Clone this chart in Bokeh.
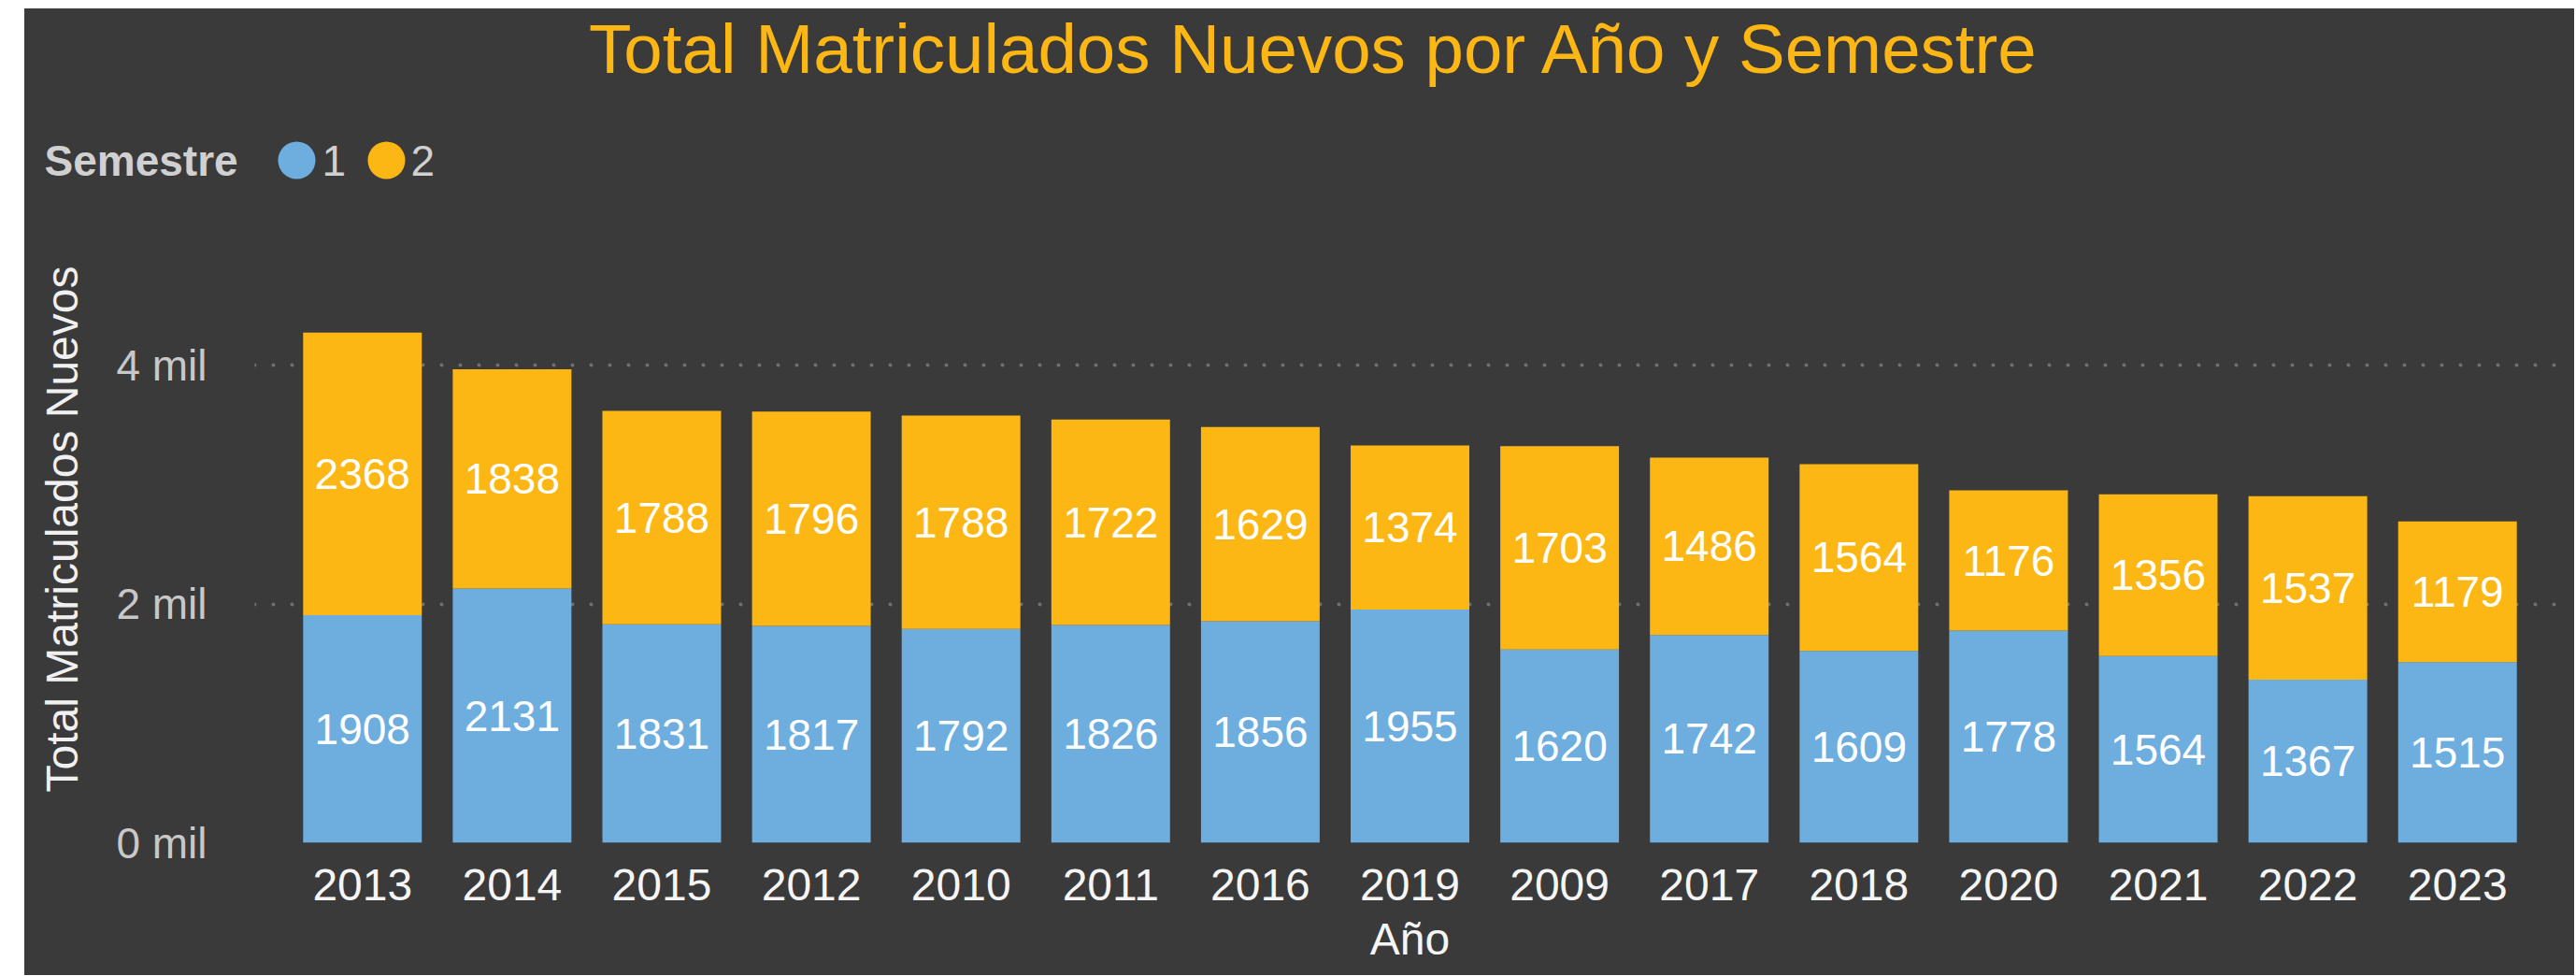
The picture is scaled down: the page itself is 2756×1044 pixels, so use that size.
from bokeh.plotting import figure
from bokeh.models import (ColumnDataSource, FactorRange, FixedTicker, LabelSet, Label,
                          Spacer, Range1d)
from bokeh.layouts import row, column
from bokeh.core.properties import value
from bokeh.embed import file_html
from bokeh.resources import INLINE

# ---- data ----
years = ["2013", "2014", "2015", "2012", "2010", "2011", "2016", "2019",
         "2009", "2017", "2018", "2020", "2021", "2022", "2023"]
sem1 = [1908, 2131, 1831, 1817, 1792, 1826, 1856, 1955, 1620, 1742, 1609, 1778, 1564, 1367, 1515]
sem2 = [2368, 1838, 1788, 1796, 1788, 1722, 1629, 1374, 1703, 1486, 1564, 1176, 1356, 1537, 1179]
semesters = ["1", "2"]
y_ticks = [0, 2000, 4000]
y_tick_labels = ["0 mil", "2 mil", "4 mil"]

BG = "#3A3A3A"
BLUE = "#6EAEDF"
GOLD = "#FDB714"
FONT = "Liberation Sans"
BGSTYLE = {"background-color": BG}

W = 2728
HEAD_H = 221
MAIN_H = 813

src = ColumnDataSource(dict(
    year=years, s1=sem1, s2=sem2,
    s1_mid=[v / 2 for v in sem1],
    s2_mid=[a + b / 2 for a, b in zip(sem1, sem2)],
    s1_txt=[str(v) for v in sem1],
    s2_txt=[str(v) for v in sem2],
))

# ---------------- header (title + legend) ----------------
head = figure(width=W, height=HEAD_H, x_range=Range1d(0, W), y_range=Range1d(0, HEAD_H),
              x_axis_type=None, y_axis_type=None, output_backend="svg",
              toolbar_location=None, min_border=0, title=None,
              background_fill_color=BG, border_fill_color=BG, styles=BGSTYLE)
head.outline_line_color = None
head.grid.visible = False

head.add_layout(Label(x=1380, y=178, text="Total Matriculados Nuevos por Año y Semestre",
                      text_align="center", text_baseline="alphabetic",
                      text_font=FONT, text_font_size="74.5px", text_color=GOLD))
head.add_layout(Label(x=21, y=59, text="Semestre", text_align="left",
                      text_baseline="alphabetic", text_font=FONT, text_font_size="46px",
                      text_font_style="bold", text_color="#D0D0D0"))

# legend swatches (one per semester), laid out left to right
leg = ColumnDataSource(dict(
    cx=[291 + 96 * i for i in range(len(semesters))],
    tx=[318 + 95 * i for i in range(len(semesters))],
    cy=[59] * len(semesters),
    ty=[59] * len(semesters),
    color=[BLUE, GOLD],
    label=semesters,
))
head.scatter(x="cx", y="cy", size=40, marker="circle", fill_color="color",
             line_color=None, source=leg)
head.text(x="tx", y="ty", text="label", source=leg, text_align="left",
          text_baseline="alphabetic", text_font=value(FONT), text_font_size="46px",
          text_color="#D0D0D0")

# ---------------- main chart ----------------
p = figure(width=W, height=MAIN_H,
           x_range=FactorRange(*years, range_padding=0.22, range_padding_units="absolute"),
           y_range=Range1d(0, 5257),
           output_backend="svg", toolbar_location=None, title=None,
           min_border_left=246, min_border_right=10, min_border_top=0, min_border_bottom=142,
           background_fill_color=BG, border_fill_color=BG, styles=BGSTYLE)
p.outline_line_color = None

p.vbar_stack(["s1", "s2"], x="year", width=0.793, source=src,
             fill_color=[BLUE, GOLD], line_color=None)

for col, txt in (("s1_mid", "s1_txt"), ("s2_mid", "s2_txt")):
    p.add_layout(LabelSet(x="year", y=col, text=txt, source=src,
                          text_align="center", text_baseline="middle",
                          text_color="white", text_font_size="46px",
                          text_font=value(FONT)))

# axes
p.yaxis.ticker = FixedTicker(ticks=y_ticks)
p.yaxis.major_label_overrides = {t: l for t, l in zip(y_ticks, y_tick_labels)}
for ax in (p.xaxis[0], p.yaxis[0]):
    ax.axis_line_color = None
    ax.major_tick_line_color = None
    ax.minor_tick_line_color = None
    ax.major_tick_out = 0
    ax.major_tick_in = 0
    ax.major_label_text_font = FONT
    ax.axis_label_text_font = FONT
    ax.axis_label_text_font_style = "normal"

p.yaxis.axis_label = "Total Matriculados Nuevos"
p.yaxis.axis_label_text_font_size = "48px"
p.yaxis.axis_label_text_color = "#F0F0F0"
p.yaxis.axis_label_standoff = 28
p.yaxis.major_label_text_font_size = "46px"
p.yaxis.major_label_text_color = "#C8C8C8"
p.yaxis.major_label_standoff = 51

p.xaxis.axis_label = "Año"
p.xaxis.axis_label_text_font_size = "48px"
p.xaxis.axis_label_text_color = "#F5F5F5"
p.xaxis.axis_label_standoff = 12
p.xaxis.major_label_text_font_size = "48px"
p.xaxis.major_label_text_color = "#F5F5F5"
p.xaxis.major_label_standoff = 28

p.xgrid.visible = False
p.ygrid.grid_line_color = "#707070"
p.ygrid.grid_line_width = 4
p.ygrid.grid_line_dash = "0 20"
p.ygrid.grid_line_cap = "round"

top_root = column(Spacer(width=W + 26, height=9), row(Spacer(width=26, height=HEAD_H), head))
main_root = row(Spacer(width=26, height=MAIN_H), p)
open("out.html", "w").write(file_html([top_root, main_root], INLINE))
